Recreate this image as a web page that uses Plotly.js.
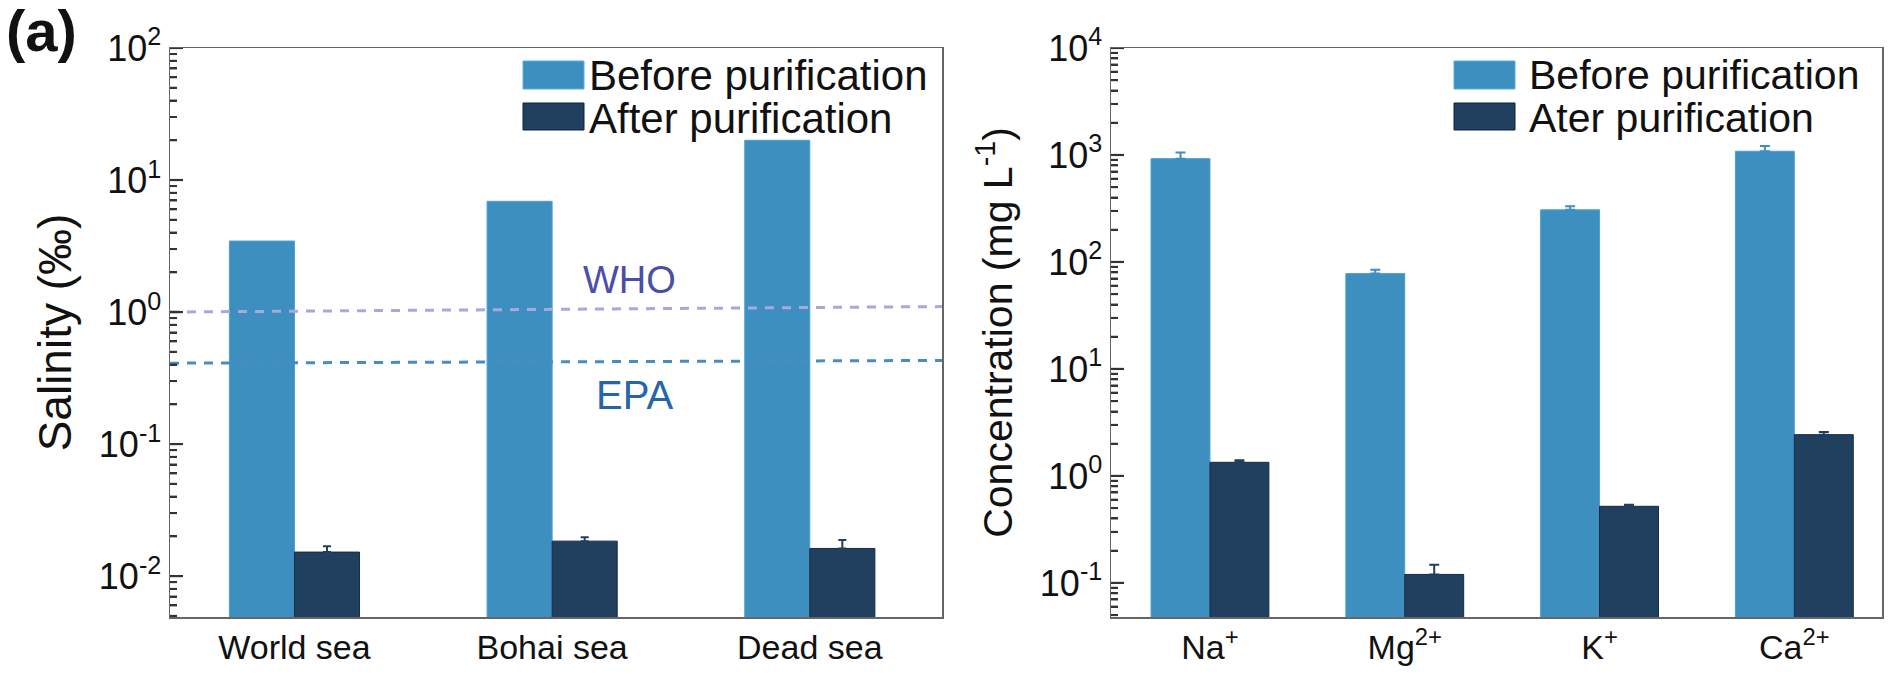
<!DOCTYPE html>
<html>
<head>
<meta charset="utf-8">
<script src="https://cdn.plot.ly/plotly-3.0.1.min.js"></script>
<style>html,body{margin:0;padding:0;background:#fff;}#chart{width:1890px;height:682px;}</style>
</head>
<body>
<div id="chart"></div>
<script>
// ---- Data ----
const seaCategories = ['World sea', 'Bohai sea', 'Dead sea'];
const salinityBefore = [3.45, 6.9, 20.0];
const salinityAfter = [0.0152, 0.0184, 0.0162];
const salinityAfterErr = [0.0016, 0.0013, 0.0026];
const whoLimit = [1.0, 1.1];      // start / end of the dashed WHO line
const epaLimit = [0.41, 0.43];    // start / end of the dashed EPA line

const ionCategories = ['Na<sup>+</sup>', 'Mg<sup>2+</sup>', 'K<sup>+</sup>', 'Ca<sup>2+</sup>'];
const ionBefore = [924, 77.8, 307, 1084];
const ionBeforeErr = [128, 6.7, 24, 127];
const ionAfter = [1.34, 0.12, 0.52, 2.43];
const ionAfterErr = [0.06, 0.028, 0.017, 0.14];

const salinityTickVals = [0.01, 0.1, 1, 10, 100];
const salinityTickText = ['10<sup>-2</sup>', '10<sup>-1</sup>', '10<sup>0</sup>', '10<sup>1</sup>', '10<sup>2</sup>'];
const ionTickVals = [0.1, 1, 10, 100, 1000, 10000];
const ionTickText = ['10<sup>-1</sup>', '10<sup>0</sup>', '10<sup>1</sup>', '10<sup>2</sup>', '10<sup>3</sup>', '10<sup>4</sup>'];

// ---- Styling ----
const C_BEFORE = '#3d8fc0';
const C_AFTER = '#213f5e';
const FONT = 'Liberation Sans, Arial, Helvetica, sans-serif';
const W = 1890, TOP = 48, BOT = 617, PH = BOT - TOP;
const px = x => x / W;
const py = y => (BOT - y) / PH;
const salRange = [Math.log10(0.0049), 2];
const ionRange = [Math.log10(0.048), 4];

function minorVals(lo, hi, range) {
  const v = [];
  for (let d = lo; d < hi; d++) for (let k = 2; k <= 9; k++) {
    const val = k * Math.pow(10, d);
    const l = Math.log10(val);
    if (l > range[0] && l < range[1]) v.push(val);
  }
  return v;
}
const salMinor = minorVals(-3, 2, salRange);
const ionMinor = minorVals(-2, 4, ionRange);

// tick marks drawn as short inside lines along the left axis
function tickShapes(xref, yref, vals, lenPx, plotWidthPx, w) {
  return vals.map(v => ({
    type: 'line', xref: xref + ' domain', yref: yref, x0: 0, x1: lenPx / plotWidthPx, y0: v, y1: v,
    line: {color: '#333', width: w}, layer: 'above'
  }));
}

const traces = [
  {
    type: 'bar', x: seaCategories, y: salinityBefore, xaxis: 'x', yaxis: 'y',
    width: 0.2525, offset: -0.2525,
    marker: {color: C_BEFORE, line: {color: '#4f9fd0', width: 1}}, showlegend: false
  },
  {
    type: 'bar', x: seaCategories, y: salinityAfter, xaxis: 'x', yaxis: 'y',
    width: 0.2525, offset: 0,
    marker: {color: C_AFTER, line: {color: '#152c45', width: 1}},
    error_y: {type: 'data', symmetric: false, array: salinityAfterErr, arrayminus: salinityAfterErr.map(() => 0),
      color: C_AFTER, thickness: 2, width: 4},
    showlegend: false
  },
  {
    type: 'bar', x: ionCategories, y: ionBefore, xaxis: 'x2', yaxis: 'y2',
    width: 0.3025, offset: -0.3025,
    marker: {color: C_BEFORE, line: {color: '#4f9fd0', width: 1}},
    error_y: {type: 'data', symmetric: false, array: ionBeforeErr, arrayminus: ionBeforeErr.map(() => 0),
      color: C_BEFORE, thickness: 2, width: 5},
    showlegend: false
  },
  {
    type: 'bar', x: ionCategories, y: ionAfter, xaxis: 'x2', yaxis: 'y2',
    width: 0.3025, offset: 0,
    marker: {color: C_AFTER, line: {color: '#152c45', width: 1}},
    error_y: {type: 'data', symmetric: false, array: ionAfterErr, arrayminus: ionAfterErr.map(() => 0),
      color: C_AFTER, thickness: 2, width: 5},
    showlegend: false
  }
];

const yCommon = {
  type: 'log', showline: true, mirror: true, linecolor: '#666', linewidth: 1.5,
  ticks: 'inside', ticklen: 12, tickwidth: 2, tickcolor: '#333',
  tickmode: 'array', showgrid: false,
  tickfont: {family: FONT, size: 36, color: '#111'}
};
const minorCommon = {tickmode: 'array', ticks: 'inside', ticklen: 7, tickcolor: '#333', tickwidth: 2};
const xCommon = {
  type: 'category', showline: true, mirror: true, linecolor: '#666', linewidth: 1.5,
  showgrid: false,
  tickfont: {family: FONT, size: 34, color: '#111'}
};

const axisTicks = []
  .concat(tickShapes('x', 'y', salinityTickVals, 13, 772, 2.2))
  .concat(tickShapes('x', 'y', salMinor, 7, 772, 2))
  .concat(tickShapes('x2', 'y2', ionTickVals, 13, 771, 2.2))
  .concat(tickShapes('x2', 'y2', ionMinor, 7, 771, 2));

const layout = {
  width: 1890, height: 682,
  margin: {l: 0, r: 0, t: TOP, b: 682 - BOT},
  paper_bgcolor: '#fff', plot_bgcolor: '#fff',
  barmode: 'overlay', showlegend: false,
  font: {family: FONT, color: '#111'},
  xaxis: Object.assign({}, xCommon, {domain: [px(170), px(942)], range: [-0.483, 2.513], anchor: 'y'}),
  yaxis: Object.assign({}, yCommon, {
    domain: [0, 1], anchor: 'x', range: salRange,
    tickvals: salinityTickVals, ticktext: salinityTickText,
    minor: Object.assign({}, minorCommon, {tickvals: salMinor}),
    title: {text: 'Salinity (‰)', font: {family: FONT, size: 46, color: '#111'}, standoff: 12}
  }),
  xaxis2: Object.assign({}, xCommon, {domain: [px(1111), px(1882)], range: [-0.508, 3.45], anchor: 'y2'}),
  yaxis2: Object.assign({}, yCommon, {
    domain: [0, 1], anchor: 'x2', range: ionRange,
    tickvals: ionTickVals, ticktext: ionTickText,
    minor: Object.assign({}, minorCommon, {tickvals: ionMinor}),
    title: {text: 'Concentration (mg L<sup>-1</sup>)', font: {family: FONT, size: 41, color: '#111'}, standoff: 14}
  }),
  shapes: [
    {type: 'line', xref: 'x domain', yref: 'y', x0: 0, x1: 1, y0: whoLimit[0], y1: whoLimit[1],
      line: {color: '#a6a9da', width: 3, dash: '9px,8px'}},
    {type: 'line', xref: 'x domain', yref: 'y', x0: 0, x1: 1, y0: epaLimit[0], y1: epaLimit[1],
      line: {color: '#4a8cc2', width: 3, dash: '9px,8px'}},
    // legend swatches (left)
    {type: 'rect', xref: 'paper', yref: 'paper', x0: px(523), x1: px(584), y0: py(89), y1: py(61),
      fillcolor: C_BEFORE, line: {color: '#5aaee0', width: 1}},
    {type: 'rect', xref: 'paper', yref: 'paper', x0: px(523), x1: px(584), y0: py(130), y1: py(103),
      fillcolor: C_AFTER, line: {color: '#0e2238', width: 1}},
    // legend swatches (right)
    {type: 'rect', xref: 'paper', yref: 'paper', x0: px(1454), x1: px(1515), y0: py(89), y1: py(61),
      fillcolor: C_BEFORE, line: {color: '#5aaee0', width: 1}},
    {type: 'rect', xref: 'paper', yref: 'paper', x0: px(1454), x1: px(1515), y0: py(130), y1: py(103),
      fillcolor: C_AFTER, line: {color: '#0e2238', width: 1}}
  ].concat(axisTicks),
  annotations: [
    {text: 'Before purification', xref: 'paper', yref: 'paper', x: px(587), y: py(75), xanchor: 'left', yanchor: 'middle',
      showarrow: false, font: {family: FONT, size: 42, color: '#111'}},
    {text: 'After purification', xref: 'paper', yref: 'paper', x: px(587), y: py(118), xanchor: 'left', yanchor: 'middle',
      showarrow: false, font: {family: FONT, size: 42, color: '#111'}},
    {text: 'Before purification', xref: 'paper', yref: 'paper', x: px(1527), y: py(75), xanchor: 'left', yanchor: 'middle',
      showarrow: false, font: {family: FONT, size: 41, color: '#111'}},
    {text: 'Ater purification', xref: 'paper', yref: 'paper', x: px(1527), y: py(118), xanchor: 'left', yanchor: 'middle',
      showarrow: false, font: {family: FONT, size: 41, color: '#111'}},
    {text: 'WHO', xref: 'paper', yref: 'paper', x: px(629), y: py(280), xanchor: 'center', yanchor: 'middle',
      showarrow: false, font: {family: FONT, size: 38, color: '#4a4ea8'}},
    {text: 'EPA', xref: 'paper', yref: 'paper', x: px(634), y: py(395), xanchor: 'center', yanchor: 'middle',
      showarrow: false, font: {family: FONT, size: 40, color: '#2565a8'}},
    {text: '<b>(a)</b>', xref: 'paper', yref: 'paper', x: px(4), y: py(30), xanchor: 'left', yanchor: 'middle',
      showarrow: false, font: {family: FONT, size: 58, color: '#111'}}
  ]
};

Plotly.newPlot('chart', traces, layout, {displayModeBar: false, staticPlot: true});
</script>
</body>
</html>
